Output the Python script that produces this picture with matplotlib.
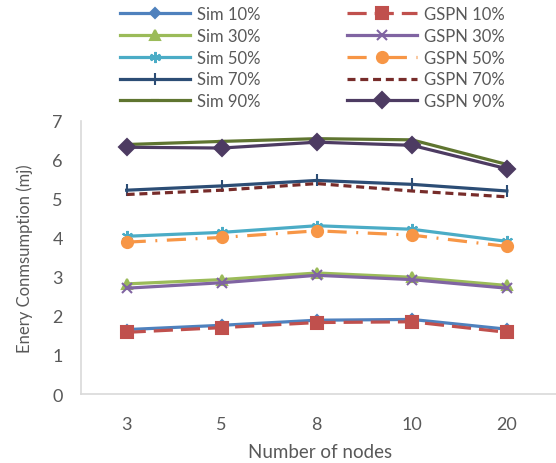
import numpy as np
import matplotlib.pyplot as plt

plt.rcParams['font.family'] = ['Lato', 'DejaVu Sans']

nodes = ['3', '5', '8', '10', '20']

sim_10 = [1.65, 1.76, 1.89, 1.91, 1.66]
gspn_10 = [1.58, 1.70, 1.83, 1.85, 1.58]
sim_30 = [2.82, 2.93, 3.10, 2.99, 2.78]
gspn_30 = [2.71, 2.85, 3.04, 2.93, 2.71]
sim_50 = [4.04, 4.14, 4.31, 4.22, 3.91]
gspn_50 = [3.89, 4.01, 4.18, 4.07, 3.78]
sim_70 = [5.22, 5.33, 5.47, 5.37, 5.20]
gspn_70 = [5.11, 5.22, 5.39, 5.20, 5.05]
sim_90 = [6.39, 6.47, 6.54, 6.51, 5.88]
gspn_90 = [6.32, 6.30, 6.45, 6.37, 5.77]

fig = plt.figure(figsize=(5.56, 4.64), dpi=100)
ax = fig.add_axes([0.1457, 0.1487, 0.86, 0.589])

x = np.arange(len(nodes))
lw = 2.3

# (label, values, color, marker, markersize, linestyle)
series = [
    ('Sim 10%', sim_10, '#4F81BD', 'D', 5, '-'),
    ('GSPN 10%', gspn_10, '#C0504D', 's', 8, (0, (6, 2.5))),
    ('Sim 30%', sim_30, '#9BBB59', '^', 7, '-'),
    ('GSPN 30%', gspn_30, '#8064A2', 'x', 7, '-'),
    ('Sim 50%', sim_50, '#4BACC6', (6, 2, 0), 8, '-'),
    ('GSPN 50%', gspn_50, '#F79646', 'o', 8, (0, (6, 3, 0.6, 3))),
    ('Sim 70%', sim_70, '#2C4D75', '|', 9, '-'),
    ('GSPN 70%', gspn_70, '#772C2A', None, 0, (0, (2.5, 1.5))),
    ('Sim 90%', sim_90, '#5F7530', '_', 6, '-'),
    ('GSPN 90%', gspn_90, '#4D3B62', 'D', 8, '-'),
]

handles = {}
for label, vals, color, marker, ms, ls in series:
    line, = ax.plot(x, vals, color=color, linewidth=lw, linestyle=ls,
                    marker=marker, markersize=ms, markeredgewidth=1.5,
                    markerfacecolor=color, markeredgecolor=color, label=label)
    handles[label] = line

ax.set_xlim(-0.48, 4.55)
ax.set_ylim(0, 7)
ax.set_xticks(x)
ax.set_xticklabels(nodes)
ax.set_yticks(range(0, 8))
ax.tick_params(length=0, labelsize=13, colors='#595959')
ax.tick_params(axis='y', pad=13)
ax.tick_params(axis='x', pad=16)

for side in ['top', 'right']:
    ax.spines[side].set_visible(False)
for side in ['left', 'bottom']:
    ax.spines[side].set_color('#D9D9D9')
    ax.spines[side].set_linewidth(1.2)

ax.set_xlabel('Number of nodes', fontsize=13.5, color='#595959', labelpad=8)
ax.set_ylabel('Enery Conmsumption (mj)', fontsize=12, color='#595959', labelpad=14)

order = ['Sim 10%', 'Sim 30%', 'Sim 50%', 'Sim 70%', 'Sim 90%',
         'GSPN 10%', 'GSPN 30%', 'GSPN 50%', 'GSPN 70%', 'GSPN 90%']
leg = fig.legend([handles[k] for k in order], order, ncol=2,
                 loc='upper left', bbox_to_anchor=(0.216, 0.985),
                 frameon=False, fontsize=12, handlelength=4.2,
                 handletextpad=0.42, columnspacing=5.2, labelspacing=0.35,
                 borderaxespad=0, borderpad=0)
for t in leg.get_texts():
    t.set_color('#595959')

fig.savefig('out.png', dpi=100)
